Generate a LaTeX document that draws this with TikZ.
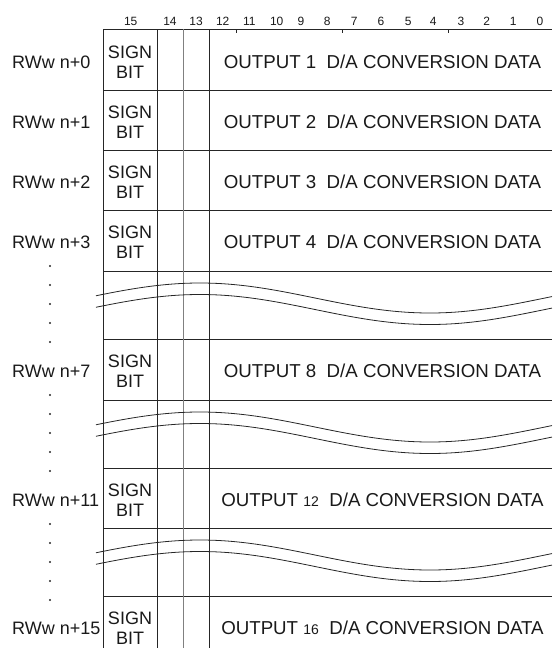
\documentclass[tikz,border=0pt]{standalone}
\usepackage{fontspec}
\setmainfont{Liberation Sans}
\begin{document}
\begin{tikzpicture}[x=1pt,y=-1pt,
  gridline/.style={line width=0.9pt, draw=black!85},
  greyline/.style={line width=0.9pt, draw=black!50},
  waveline/.style={line width=0.8pt, draw=black!85},
  lbl/.style={font=\fontsize{18}{20}\selectfont, text=black!90, inner sep=0pt},
  outlbl/.style={font=\fontsize{18.7}{20}\selectfont, text=black!90, inner sep=0pt},
  bitnum/.style={font=\fontsize{12}{14}\selectfont, text=black!90, inner sep=0pt},
  dotmark/.style={fill=black!85}]
\useasboundingbox (0,0) rectangle (552,648);
% horizontal lines
\foreach \y in {29.3,90,150,210,271,339,400,468,528,596}
  \draw[gridline] (103,\y) -- (552,\y);
% vertical lines
\foreach \x in {103,157,209}
  \draw[gridline] (\x,29.3) -- (\x,648);
\draw[greyline] (183,29.3) -- (183,648);
% ticks
\foreach \x in {236,342,448}
  \draw[gridline] (\x,29.3) -- (\x,32.8);
% waves
\foreach \yo in {271,400,528}{
  \draw[waveline] plot[domain=96:552, samples=90, smooth] (\x, {\yo+27-15*cos(0.78261*(\x-200))});
  \draw[waveline] plot[domain=96:552, samples=90, smooth] (\x, {\yo+38.5-15*cos(0.78261*(\x-200))});
}
% bit numbers
\foreach \b/\x in {15/130.7, 14/170, 13/196, 12/222.7, 11/249.3, 10/276.7, 9/301, 8/327.3, 7/354.3, 6/381, 5/408.3, 4/433.3, 3/461, 2/486.7, 1/513.3, 0/540}
  \node[bitnum, anchor=base] (bit\b) at (\x,25) {\b};
% rows
\foreach \n/\c in {0/61.7, 1/122, 2/182, 3/242.5, 7/371.5, 11/500, 15/628}{
  \node[lbl, anchor=base west] (rw\n) at (12,\c+6.4) {RWw n+\n};
  \node[lbl, anchor=base, align=center] (sign\n) at (130,\c+16.4) {SIGN\\BIT};
}
\node[outlbl, anchor=base] (out0) at (382.5,68.1) {OUTPUT 1\ \ D/A CONVERSION DATA};
\node[outlbl, anchor=base] (out1) at (382.5,128.4) {OUTPUT 2\ \ D/A CONVERSION DATA};
\node[outlbl, anchor=base] (out2) at (382.5,188.4) {OUTPUT 3\ \ D/A CONVERSION DATA};
\node[outlbl, anchor=base] (out3) at (382.5,248.9) {OUTPUT 4\ \ D/A CONVERSION DATA};
\node[outlbl, anchor=base] (out7) at (382.5,377.9) {OUTPUT 8\ \ D/A CONVERSION DATA};
\node[outlbl, anchor=base] (out11) at (382.5,506.4) {OUTPUT {\fontsize{14}{14}\selectfont 12}\ \ D/A CONVERSION DATA};
\node[outlbl, anchor=base] (out15) at (382.5,634.4) {OUTPUT {\fontsize{14}{14}\selectfont 16}\ \ D/A CONVERSION DATA};
% dots
\foreach \y in {266,285,304,323,342,395,414,433,452,471,524,543,562,581,600}
  \fill[dotmark] (50,\y) circle (1.1);
\end{tikzpicture}
\end{document}
